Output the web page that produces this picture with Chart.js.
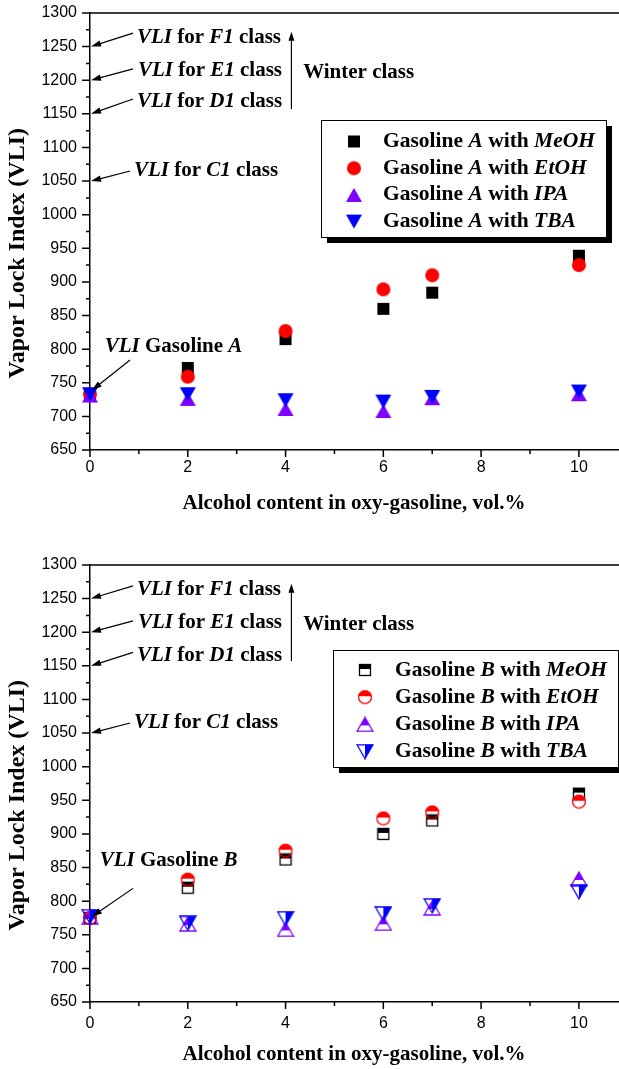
<!DOCTYPE html>
<html>
<head>
<meta charset="utf-8">
<script src="https://cdn.jsdelivr.net/npm/chart.js@4.4.0/dist/chart.umd.min.js"></script>
<style>
  body { margin: 0; background: #fff; }
  canvas { position: absolute; left: 0; }
</style>
</head>
<body>
<canvas id="chartA" width="619" height="535" style="top:0px"></canvas>
<canvas id="chartB" width="619" height="534" style="top:535px"></canvas>
<script>
// alcohol content, vol.%
const alcoholContent = [0, 2, 4, 6, 7, 10];

// gasoline A
const gasAMeOH = [733, 772, 815, 860, 884, 939];
const gasAEtOH = [733, 759, 827, 889, 910, 925];
const gasAIPA  = [731, 726, 711, 708, 727, 733];
const gasATBA  = [733, 733, 724, 722, 729, 737];

// gasoline B
const gasBMeOH = [775, 820, 862, 900, 920, 960];
const gasBEtOH = [775, 832, 875, 923, 932, 948];
const gasBIPA  = [776, 766, 758, 767, 790, 833];
const gasBTBA  = [777, 767, 774, 781, 793, 814];

const alcohols = ['MeOH', 'EtOH', 'IPA', 'TBA'];
const xTicks = [0, 2, 4, 6, 8, 10];
const yTicks = [650, 700, 750, 800, 850, 900, 950, 1000, 1050, 1100, 1150, 1200, 1250, 1300];
const classNames = ['F1', 'E1', 'D1', 'C1'];
const classVLI = [1250, 1200, 1150, 1050];

const SERIF = '"Liberation Serif", "Times New Roman", serif';
const SANS = '"Liberation Sans", Arial, sans-serif';
const colors = ['#000000', '#ff0000', '#8000ff', '#0000ff'];

// ---- marker images ----
function marker(shape, color, half) {
  const c = document.createElement('canvas');
  const g = c.getContext('2d');
  if (shape === 'square') {
    c.width = 14; c.height = 14;
    g.fillStyle = color; g.strokeStyle = color; g.lineWidth = 1.3;
    if (!half) g.fillRect(1, 1, 12, 12);
    else { g.fillRect(1, 1, 12, 5); g.strokeRect(1.5, 1.5, 11, 11); }
  } else if (shape === 'circle') {
    c.width = 16; c.height = 16;
    g.fillStyle = color; g.strokeStyle = color; g.lineWidth = 1.3;
    if (!half) { g.beginPath(); g.arc(8, 8, 7, 0, Math.PI * 2); g.fill(); }
    else {
      g.save(); g.beginPath(); g.rect(0, 0, 16, 7); g.clip();
      g.beginPath(); g.arc(8, 8, 7, 0, Math.PI * 2); g.fill(); g.restore();
      g.beginPath(); g.arc(8, 8, 6.4, 0, Math.PI * 2); g.stroke();
    }
  } else {
    c.width = 18; c.height = 16;
    g.fillStyle = color; g.strokeStyle = color; g.lineWidth = 1.3;
    const up = shape === 'up';
    const pts = up ? [[9, 1], [17, 15], [1, 15]] : [[1, 1], [17, 1], [9, 15]];
    const path = () => { g.beginPath(); g.moveTo(pts[0][0], pts[0][1]); g.lineTo(pts[1][0], pts[1][1]); g.lineTo(pts[2][0], pts[2][1]); g.closePath(); };
    if (!half) { path(); g.fill(); }
    else {
      g.save(); g.beginPath();
      if (up) g.rect(0, 0, 18, 9); else g.rect(9, 0, 9, 16);
      g.clip(); path(); g.fill(); g.restore();
      path(); g.stroke();
    }
  }
  return c;
}

const shapes = ['square', 'circle', 'up', 'down'];
const markersA = shapes.map((s, i) => marker(s, colors[i], false));
const markersB = shapes.map((s, i) => marker(s, colors[i], true));

// ---- helpers ----
function rich(ctx, x, y, segs, size) {
  ctx.textBaseline = 'middle'; ctx.textAlign = 'left'; ctx.fillStyle = '#000';
  segs.forEach(([t, it]) => {
    ctx.font = (it ? 'italic ' : '') + 'bold ' + size + 'px ' + SERIF;
    ctx.fillText(t, x, y);
    x += ctx.measureText(t).width;
  });
}

function arrow(ctx, x1, y1, x2, y2, len, hw) {
  const a = Math.atan2(y2 - y1, x2 - x1);
  ctx.strokeStyle = '#000'; ctx.fillStyle = '#000'; ctx.lineWidth = 1.2;
  ctx.beginPath(); ctx.moveTo(x1, y1);
  ctx.lineTo(x2 - Math.cos(a) * len * 0.8, y2 - Math.sin(a) * len * 0.8); ctx.stroke();
  ctx.beginPath(); ctx.moveTo(x2, y2);
  ctx.lineTo(x2 - Math.cos(a) * len - Math.sin(a) * hw, y2 - Math.sin(a) * len + Math.cos(a) * hw);
  ctx.lineTo(x2 - Math.cos(a) * len + Math.sin(a) * hw, y2 - Math.sin(a) * len - Math.cos(a) * hw);
  ctx.closePath(); ctx.fill();
}

// per chart furniture (pixel/data positions), kept apart from the data
const furniture = {
  chartA: {
    letter: 'A', markers: markersA,
    legend: { x: 321, y: 120, w: 285, h: 117, first: 21.5, row: 26.7, mx: 354, tx: 383 },
    classText: [[0.96, 1264], [0.98, 1214], [0.96, 1168], [0.9, 1065]],
    classFrom: [[0.88, 1270], [0.88, 1217], [0.88, 1172], [0.82, 1065]],
    gasText: [0.3, 804], gasFrom: [0.82, 784], gasTo: [0.04, 739]
  },
  chartB: {
    letter: 'B', markers: markersB,
    legend: { x: 333, y: 115, w: 285, h: 117, first: 20, row: 27.2, mx: 365, tx: 395 },
    classText: [[0.96, 1263], [0.98, 1214], [0.96, 1166], [0.9, 1065]],
    classFrom: [[0.88, 1269], [0.88, 1217], [0.88, 1170], [0.82, 1065]],
    gasText: [0.2, 861], gasFrom: [0.88, 819], gasTo: [0.04, 777]
  }
};

const decor = {
  id: 'decor',
  beforeDatasetsDraw(chart) {
    const ctx = chart.ctx, ca = chart.chartArea, xs = chart.scales.x, ys = chart.scales.y;
    ctx.save();
    ctx.strokeStyle = '#000'; ctx.lineWidth = 1.5;
    ctx.beginPath();
    yTicks.forEach((v, i) => {
      const p = ys.getPixelForValue(v);
      ctx.moveTo(ca.left - 8, p); ctx.lineTo(ca.left, p);
      if (i < yTicks.length - 1) {
        const m = ys.getPixelForValue((v + yTicks[i + 1]) / 2);
        ctx.moveTo(ca.left - 4, m); ctx.lineTo(ca.left, m);
      }
    });
    xTicks.forEach((v, i) => {
      const p = xs.getPixelForValue(v);
      ctx.moveTo(p, ca.bottom); ctx.lineTo(p, ca.bottom + 7);
      const m = xs.getPixelForValue(v + 1);
      ctx.moveTo(m, ca.bottom); ctx.lineTo(m, ca.bottom + 4);
    });
    ctx.moveTo(ca.left, ca.top); ctx.lineTo(ca.right + 1, ca.top);
    ctx.stroke();
    ctx.restore();
  },
  afterDraw(chart) {
    const f = furniture[chart.canvas.id];
    const ctx = chart.ctx, ca = chart.chartArea, xs = chart.scales.x, ys = chart.scales.y;
    const X = v => xs.getPixelForValue(v), Y = v => ys.getPixelForValue(v);
    ctx.save();

    // y axis title
    ctx.font = 'bold 24px ' + SERIF;
    const yt = 'Vapor Lock Index (VLI)';
    const L = ctx.measureText(yt).width;
    ctx.translate(18, ca.top + 115 + L / 2); ctx.rotate(-Math.PI / 2);
    ctx.textAlign = 'center'; ctx.textBaseline = 'middle'; ctx.fillStyle = '#000';
    ctx.fillText(yt, 0, 0);
    ctx.setTransform(1, 0, 0, 1, 0, 0);

    // class annotations
    classNames.forEach((c, i) => {
      rich(ctx, X(f.classText[i][0]), Y(f.classText[i][1]), [['VLI', true], [' for ', false], [c, true], [' class', false]], 21);
      arrow(ctx, X(f.classFrom[i][0]), Y(f.classFrom[i][1]), ca.left + 1, Y(classVLI[i]), 10, 3.2);
    });
    // winter class
    arrow(ctx, X(4.12), Y(1157), X(4.12), Y(1272), 9, 3);
    rich(ctx, X(4.36), Y(1211), [['Winter class', false]], 21);

    // VLI gasoline
    rich(ctx, X(f.gasText[0]), Y(f.gasText[1]), [['VLI', true], [' Gasoline ', false], [f.letter, true]], 21);
    arrow(ctx, X(f.gasFrom[0]), Y(f.gasFrom[1]), X(f.gasTo[0]), Y(f.gasTo[1]), 10, 3.2);

    // legend
    const g = f.legend;
    ctx.fillStyle = '#000'; ctx.fillRect(g.x + 6, g.y + 6, g.w, g.h);
    ctx.fillStyle = '#fff'; ctx.fillRect(g.x, g.y, g.w, g.h);
    ctx.strokeStyle = '#000'; ctx.lineWidth = 1; ctx.strokeRect(g.x + 0.5, g.y + 0.5, g.w, g.h);
    alcohols.forEach((a, i) => {
      const cy = g.y + g.first + i * g.row;
      const m = f.markers[i];
      ctx.drawImage(m, g.mx - m.width / 2, cy - m.height / 2);
      rich(ctx, g.tx, cy, [['Gasoline ', false], [f.letter, true], [' with ', false], [a, true]], 21.5);
    });
    ctx.restore();
  }
};

function makeChart(id, series, markers, xHeight, xTitlePad, top, xTickPad) {
  return new Chart(document.getElementById(id), {
    type: 'scatter',
    data: {
      datasets: series.map((vals, i) => ({
        label: alcohols[i],
        data: alcoholContent.map((x, j) => ({ x: x, y: vals[j] })),
        pointStyle: markers[i],
        pointRadius: 7,
        order: 4 - i,
        clip: false
      }))
    },
    options: {
      responsive: false,
      animation: false,
      devicePixelRatio: 1,
      layout: { autoPadding: false, padding: { top: top, right: 1, left: 0, bottom: 0 } },
      plugins: { legend: { display: false }, tooltip: { enabled: false } },
      scales: {
        x: {
          type: 'linear', min: 0, max: 10.8,
          afterBuildTicks: s => { s.ticks = xTicks.map(v => ({ value: v })); },
          afterFit: s => { s.height = xHeight; s.paddingLeft = 0; s.paddingRight = 0; },
          grid: { display: false, drawTicks: false },
          border: { display: true, color: '#000', width: 1.5 },
          ticks: { color: '#000', font: { family: SANS, size: 16 }, padding: xTickPad, maxRotation: 0, callback: v => String(v) },
          title: {
            display: true, text: 'Alcohol content in oxy-gasoline, vol.%', color: '#000',
            font: { family: SERIF, size: 21, weight: 'bold' }, padding: { top: 0, bottom: xTitlePad }
          }
        },
        y: {
          type: 'linear', min: 650, max: 1300,
          afterBuildTicks: s => { s.ticks = yTicks.map(v => ({ value: v })); },
          afterFit: s => { s.width = 90; s.paddingTop = 0; s.paddingBottom = 0; },
          grid: { display: false, drawTicks: false },
          border: { display: true, color: '#000', width: 1.5 },
          ticks: { color: '#000', font: { family: SANS, size: 16 }, padding: 13, callback: v => String(v) }
        }
      }
    },
    plugins: [decor]
  });
}

makeChart('chartA', [gasAMeOH, gasAEtOH, gasAIPA, gasATBA], markersA, 85, 19, 13, 8);
makeChart('chartB', [gasBMeOH, gasBEtOH, gasBIPA, gasBTBA], markersB, 67, 2, 30, 12);
</script>
</body>
</html>
